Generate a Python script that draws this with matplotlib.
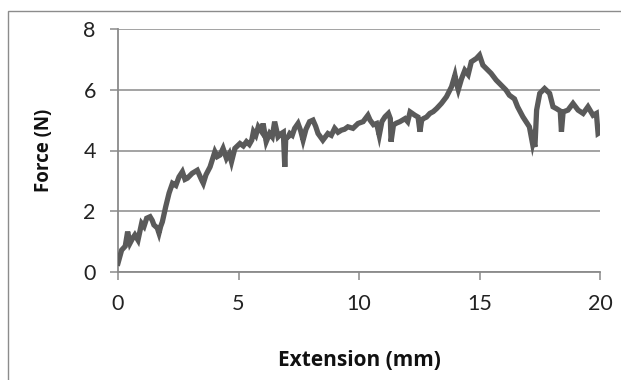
import matplotlib
matplotlib.use("Agg")
import matplotlib.pyplot as plt
from matplotlib.patches import Rectangle

extension = [0.0, 0.15, 0.3, 0.4, 0.5, 0.6, 0.7, 0.83, 0.98, 1.08, 1.19, 1.33, 1.42, 1.49,
             1.63, 1.70, 1.77, 1.84, 1.98, 2.12, 2.26, 2.4, 2.53, 2.67, 2.78, 2.88, 3.08,
             3.29, 3.43, 3.47, 3.54, 3.65, 3.82, 4.02, 4.12, 4.23, 4.36, 4.50, 4.62, 4.71,
             4.85, 5.06, 5.2, 5.33, 5.45, 5.55, 5.62, 5.72, 5.82, 5.96, 6.02, 6.15, 6.29,
             6.40, 6.50, 6.64, 6.78, 6.86, 6.92, 6.96, 7.06, 7.13, 7.23, 7.33, 7.47, 7.58,
             7.68, 7.80, 7.95, 8.09, 8.20, 8.30, 8.50, 8.71, 8.85, 8.99, 9.13, 9.27, 9.40,
             9.54, 9.75, 9.96, 10.17, 10.37, 10.46, 10.60, 10.73, 10.84, 10.95, 11.08,
             11.22, 11.30, 11.33, 11.43, 11.55, 11.70, 11.91, 12.02, 12.12, 12.32, 12.45,
             12.53, 12.60, 12.67, 12.80, 12.94, 13.08, 13.22, 13.42, 13.63, 13.84, 13.98,
             14.05, 14.12, 14.25, 14.39, 14.53, 14.66, 14.87, 15.0, 15.14, 15.28, 15.48,
             15.69, 15.90, 16.1, 16.24, 16.45, 16.58, 16.8, 16.93, 17.07, 17.2, 17.23, 17.3,
             17.37, 17.5, 17.7, 17.91, 18.05, 18.19, 18.35, 18.4, 18.47, 18.67, 18.88,
             19.09, 19.3, 19.5, 19.71, 19.85, 19.92, 20.0]

force = [0.29, 0.72, 0.85, 1.33, 0.95, 1.1, 1.22, 1.05, 1.6, 1.5, 1.77, 1.82, 1.7, 1.55,
         1.45, 1.28, 1.5, 1.65, 2.15, 2.6, 2.92, 2.85, 3.13, 3.3, 3.05, 3.09, 3.25,
         3.35, 3.1, 3.03, 2.92, 3.2, 3.46, 3.96, 3.8, 3.85, 4.07, 3.74, 3.9, 3.63,
         4.07, 4.23, 4.15, 4.29, 4.2, 4.34, 4.62, 4.5, 4.78, 4.62, 4.89, 4.29, 4.56,
         4.45, 4.95, 4.45, 4.56, 4.6, 3.46, 4.4, 4.45, 4.56, 4.5, 4.73, 4.89, 4.65,
         4.34, 4.7, 4.95, 5.0, 4.8, 4.56, 4.34, 4.56, 4.5, 4.73, 4.6, 4.67, 4.7,
         4.78, 4.73, 4.89, 4.95, 5.16, 5.0, 4.85, 4.89, 4.5, 4.95, 5.11, 5.22, 5.05,
         4.29, 4.84, 4.9, 4.95, 5.05, 4.95, 5.27, 5.16, 5.1, 4.62, 5.0, 5.05, 5.1,
         5.22, 5.28, 5.38, 5.55, 5.77, 6.1, 6.48, 6.2, 6.0, 6.35, 6.64, 6.5, 6.92,
         7.03, 7.14, 6.81, 6.7, 6.54, 6.32, 6.15, 5.99, 5.82, 5.7, 5.44, 5.11, 4.95,
         4.78, 4.23, 4.34, 4.12, 5.33, 5.88, 6.04, 5.88, 5.44, 5.38, 5.3, 4.62, 5.27,
         5.33, 5.55, 5.33, 5.22, 5.44, 5.16, 5.22, 4.56, 4.6]

x_ticks = [0, 5, 10, 15, 20]
y_ticks = [0, 2, 4, 6, 8]

fig = plt.figure(figsize=(6.21, 3.80), dpi=100)
fig.patch.set_facecolor("white")
ax = fig.add_axes([118 / 621, 1 - 272 / 380, (600 - 118) / 621, (272 - 29) / 380])

grid_c = "#8a8a8a"
ax.plot(extension, force, color="#5a5a5a", lw=3.8, solid_joinstyle="miter", zorder=3)

ax.set_xlim(0, 20)
ax.set_ylim(0, 8)
ax.set_xticks(x_ticks)
ax.set_yticks(y_ticks)
ax.yaxis.grid(True, color=grid_c, lw=1.1)
ax.set_axisbelow(True)
for s in ["top", "right"]:
    ax.spines[s].set_visible(False)
for s in ["left", "bottom"]:
    ax.spines[s].set_color(grid_c)
    ax.spines[s].set_linewidth(1.3)
ax.tick_params(axis="both", direction="out", length=6, width=1.1, color=grid_c,
               labelsize=15.5, labelcolor="#222222")
ax.tick_params(axis="x", pad=10)
ax.tick_params(axis="y", pad=10)
for lab in ax.get_xticklabels() + ax.get_yticklabels():
    lab.set_family("Lato")

ax.set_xlabel("Extension (mm)", family="Open Sans", fontweight="bold", fontsize=15,
              labelpad=26, color="#111111")
ax.set_ylabel("Force (N)", family="Open Sans", fontweight="bold", fontsize=13.5,
              labelpad=21, color="#111111")

fig.patches.append(Rectangle((7.5 / 621, -0.1), 1.2, 1 - 10.5 / 380 + 0.1,
                             transform=fig.transFigure, fill=False,
                             edgecolor="#8c8c8c", lw=1.0))

fig.savefig("out.png", dpi=100, facecolor="white")
